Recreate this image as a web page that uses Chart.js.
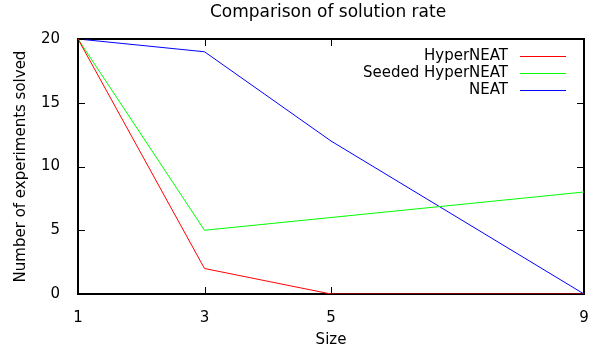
<!DOCTYPE html>
<html>
<head>
<meta charset="utf-8">
<script src="https://cdn.jsdelivr.net/npm/chart.js@4"></script>
<style>
  html, body { margin: 0; padding: 0; background: #fff; }
  #wrap { width: 593px; height: 349px; }
</style>
</head>
<body>
<div id="wrap"><canvas id="chart" width="593" height="349"></canvas></div>
<script>
const sizes = [1, 3, 5, 9];
const hyperNeat = [20, 2, 0, 0];
const seededHyperNeat = [20, 5, 6, 8];
const neat = [20, 19, 12, 0];
const yTicks = [0, 5, 10, 15, 20];
const chartTitle = 'Comparison of solution rate';

const FONT = "'DejaVu Sans', sans-serif";
const colors = ['#ff0000', '#00ff00', '#0000ff'];

const toPoints = vals => sizes.map((x, i) => ({ x: x, y: vals[i] }));

// gnuplot look: frame, inward ticks on all sides, title over the plot, legend inside
const gnuplotFrame = {
    id: 'gnuplotFrame',
    beforeDatasetsDraw(chart) {
        const { ctx, chartArea: a } = chart;
        const L = Math.round(a.left), R = Math.round(a.right);
        const T = Math.round(a.top), B = Math.round(a.bottom);
        ctx.save();
        ctx.fillStyle = '#000000';
        ctx.fillRect(L - 1, T - 1, R - L + 2, 2);
        ctx.fillRect(L - 1, B - 1, R - L + 2, 2);
        ctx.fillRect(L - 1, T - 1, 2, B - T + 2);
        ctx.fillRect(R - 1, T - 1, 2, B - T + 2);
        ctx.restore();
    },
    afterDraw(chart) {
        const { ctx, chartArea: a, scales } = chart;
        const L = Math.round(a.left), R = Math.round(a.right);
        const T = Math.round(a.top), B = Math.round(a.bottom);
        ctx.save();
        ctx.fillStyle = '#000000';
        sizes.forEach(v => {
            const px = Math.round(scales.x.getPixelForValue(v));
            ctx.fillRect(px, B - 7, 1, 6);
            ctx.fillRect(px, T + 1, 1, 6);
        });
        yTicks.forEach(v => {
            const py = Math.round(scales.y.getPixelForValue(v));
            ctx.fillRect(L + 1, py, 6, 1);
            ctx.fillRect(R - 7, py, 6, 1);
        });

        ctx.textBaseline = 'middle';
        ctx.textAlign = 'center';
        ctx.font = '17px ' + FONT;
        ctx.fillText(chartTitle, (L + R) / 2 - 3, 13);

        ctx.font = '15px ' + FONT;
        ctx.textAlign = 'right';
        chart.data.datasets.forEach((ds, i) => {
            const y = 56 + i * 17;
            ctx.fillStyle = '#000000';
            ctx.fillText(ds.label, 508, y);
            ctx.fillStyle = colors[i];
            ctx.fillRect(520, y, 46, 1);
        });
        ctx.restore();
    }
};

new Chart(document.getElementById('chart').getContext('2d'), {
    type: 'line',
    data: {
        datasets: [
            { label: 'HyperNEAT', data: toPoints(hyperNeat), borderColor: colors[0] },
            { label: 'Seeded HyperNEAT', data: toPoints(seededHyperNeat), borderColor: colors[1] },
            { label: 'NEAT', data: toPoints(neat), borderColor: colors[2] }
        ].map(d => Object.assign(d, { borderWidth: 1, pointRadius: 0, tension: 0, fill: false }))
    },
    options: {
        responsive: false,
        animation: false,
        layout: { padding: { left: 0, right: 9, top: 39, bottom: 0 } },
        plugins: {
            legend: { display: false },
            tooltip: { enabled: false },
            title: { display: false }
        },
        scales: {
            x: {
                type: 'linear',
                min: 1,
                max: 9,
                afterBuildTicks: s => { s.ticks = sizes.map(v => ({ value: v })); },
                afterFit: s => { s.height = 55; s.paddingLeft = 0; s.paddingRight = 0; },
                grid: { display: false },
                border: { display: false },
                ticks: { color: '#000', font: { family: FONT, size: 15 }, padding: 7, maxRotation: 0 },
                title: { display: true, text: 'Size', color: '#000', font: { family: FONT, size: 15 }, padding: { top: 4, bottom: 0 } }
            },
            y: {
                min: 0,
                max: 20,
                afterBuildTicks: s => { s.ticks = yTicks.map(v => ({ value: v })); },
                afterFit: s => { s.width = 78; s.paddingTop = 0; s.paddingBottom = 0; },
                grid: { display: false },
                border: { display: false },
                ticks: { color: '#000', font: { family: FONT, size: 15 }, padding: 10 },
                title: { display: true, text: 'Number of experiments solved', color: '#000', font: { family: FONT, size: 15 }, padding: { top: 12, bottom: 0 } }
            }
        }
    },
    plugins: [gnuplotFrame]
});
</script>
</body>
</html>
